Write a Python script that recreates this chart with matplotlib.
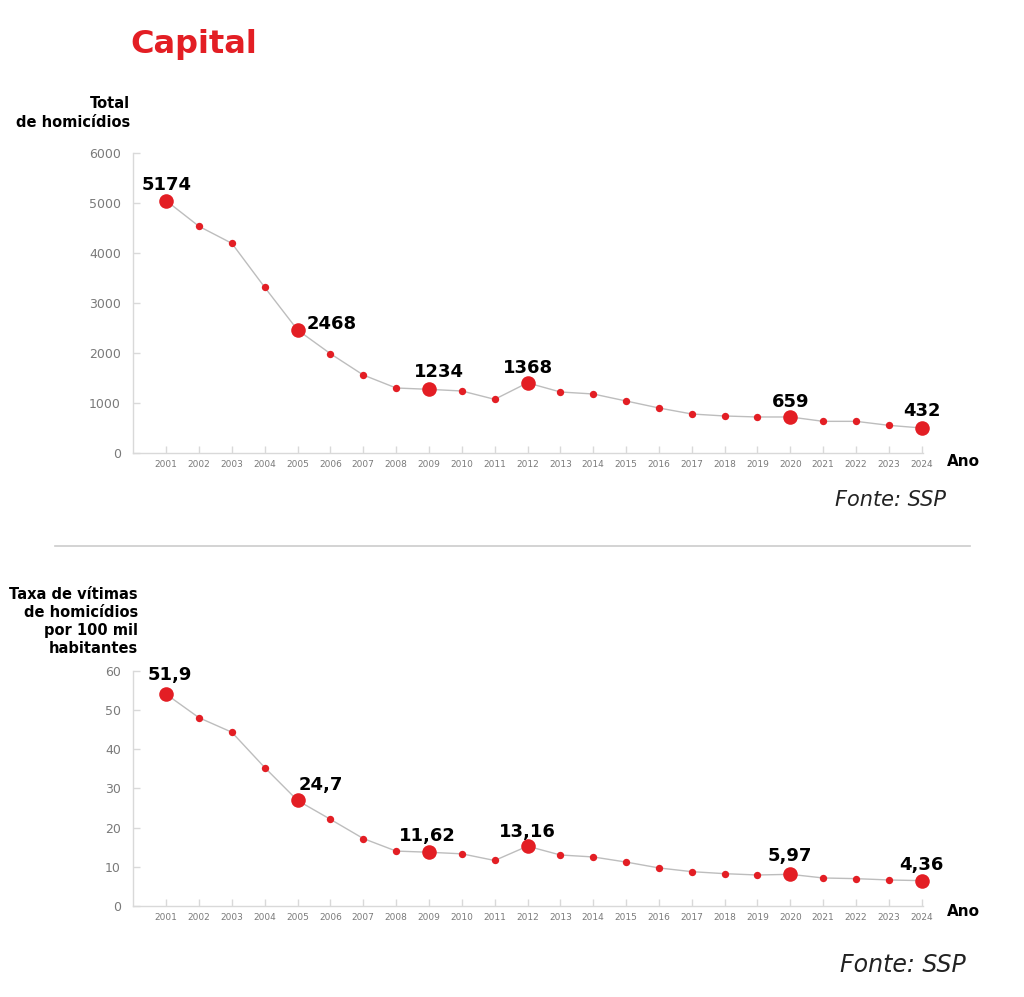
import matplotlib
matplotlib.use("Agg")
import matplotlib.pyplot as plt

years = list(range(2001, 2025))
total = [5053, 4540, 4200, 3320, 2467, 1993, 1567, 1307, 1280, 1247, 1080, 1410,
         1227, 1187, 1047, 907, 787, 747, 727, 727, 640, 640, 560, 507]
taxa = [54.0, 48.0, 44.3, 35.3, 26.9, 22.1, 17.2, 14.0, 13.7, 13.3, 11.6, 15.25,
        13.0, 12.5, 11.2, 9.7, 8.75, 8.24, 7.9, 8.07, 7.14, 6.97, 6.63, 6.46]
highlight_years = [2001, 2005, 2009, 2012, 2020, 2024]
total_labels = ["5174", "2468", "1234", "1368", "659", "432"]
taxa_labels = ["51,9", "24,7", "11,62", "13,16", "5,97", "4,36"]
top_yticks = [0, 1000, 2000, 3000, 4000, 5000, 6000]
bot_yticks = [0, 10, 20, 30, 40, 50, 60]

RED = "#e31e24"
LINE = "#bdbdbd"
GRAY = "#7a7a7a"
plt.rcParams['font.family'] = ["DejaVu Sans"]

fig = plt.figure(figsize=(10.24, 9.97), dpi=100)

def px(v):  # pixels -> points
    return v * 0.72

def draw(ax, values, labels, yticks, ylim, offsets):
    ax.plot(years, values, color=LINE, lw=1.0, zorder=1, clip_on=False)
    small = [v for y, v in zip(years, values) if y not in highlight_years]
    small_x = [y for y in years if y not in highlight_years]
    big = [values[years.index(y)] for y in highlight_years]
    ax.scatter(small_x, small, s=28, color=RED, zorder=3, linewidths=0, clip_on=False)
    ax.scatter(highlight_years, big, s=110, color=RED, zorder=4, linewidths=0, clip_on=False)
    for y, v, lab, (dx, dy, ha) in zip(highlight_years, big, labels, offsets):
        ax.annotate(lab, (y, v), xytext=(px(dx), px(dy)), textcoords="offset points",
                    ha=ha, va="center", fontsize=13, fontweight="bold", color="black")
    ax.set_xlim(2000, 2024.05)
    ax.set_ylim(*ylim)
    ax.set_xticks(years)
    ax.set_xticklabels([str(y) for y in years], fontsize=6.5, color=GRAY)
    ax.set_yticks(yticks)
    ax.set_yticklabels([str(t) for t in yticks], fontsize=9, color=GRAY)
    for s in ["top", "right"]:
        ax.spines[s].set_visible(False)
    for s in ["left", "bottom"]:
        ax.spines[s].set_color("#d9d9d9")
        ax.spines[s].set_linewidth(1.0)
    ax.tick_params(axis="both", direction="in", color="#d9d9d9", length=5, width=1)
    ax.tick_params(axis="y", pad=9)
    ax.tick_params(axis="x", pad=5)
    ax.patch.set_alpha(0)

ax1 = fig.add_axes([0.1302, 0.5453, 0.7715, 0.3009])
draw(ax1, total, total_labels, top_yticks, (0, 6000),
     [(0, 16, "center"), (9, 6, "left"), (10, 17, "center"),
      (0, 15, "center"), (0, 15, "center"), (0, 17, "center")])

ax2 = fig.add_axes([0.1302, 0.0913, 0.7715, 0.2360])
draw(ax2, taxa, taxa_labels, bot_yticks, (0, 60),
     [(4, 19, "center"), (1, 15, "left"), (-2, 16, "center"),
      (0, 14, "center"), (0, 18, "center"), (0, 16, "center")])

fig.text(130 / 1024, 1 - 45 / 997, "Capital", fontsize=23, fontweight="bold",
         color=RED, ha="left", va="center")
fig.text(130 / 1024, 1 - 113 / 997, "Total\nde homicídios", fontsize=10.5,
         fontweight="bold", ha="right", va="center", linespacing=1.3)
fig.text(138 / 1024, 1 - 621 / 997, "Taxa de vítimas\nde homicídios\npor 100 mil\nhabitantes",
         fontsize=10.5, fontweight="bold", ha="right", va="center", linespacing=1.25)
fig.text(947 / 1024, 1 - 461 / 997, "Ano", fontsize=11, fontweight="bold", ha="left", va="center")
fig.text(947 / 1024, 1 - 912 / 997, "Ano", fontsize=11, fontweight="bold", ha="left", va="center")
fig.text(946 / 1024, 1 - 500 / 997, "Fonte: SSP", fontsize=15, style="italic",
         color="#222222", ha="right", va="center")
fig.text(966 / 1024, 1 - 965 / 997, "Fonte: SSP", fontsize=17, style="italic",
         color="#222222", ha="right", va="center")
fig.add_artist(plt.Line2D([55 / 1024, 970 / 1024], [1 - 546 / 997, 1 - 546 / 997],
                          transform=fig.transFigure, color="#cccccc", lw=1.2))

fig.savefig("out.png", dpi=100, facecolor="white")
